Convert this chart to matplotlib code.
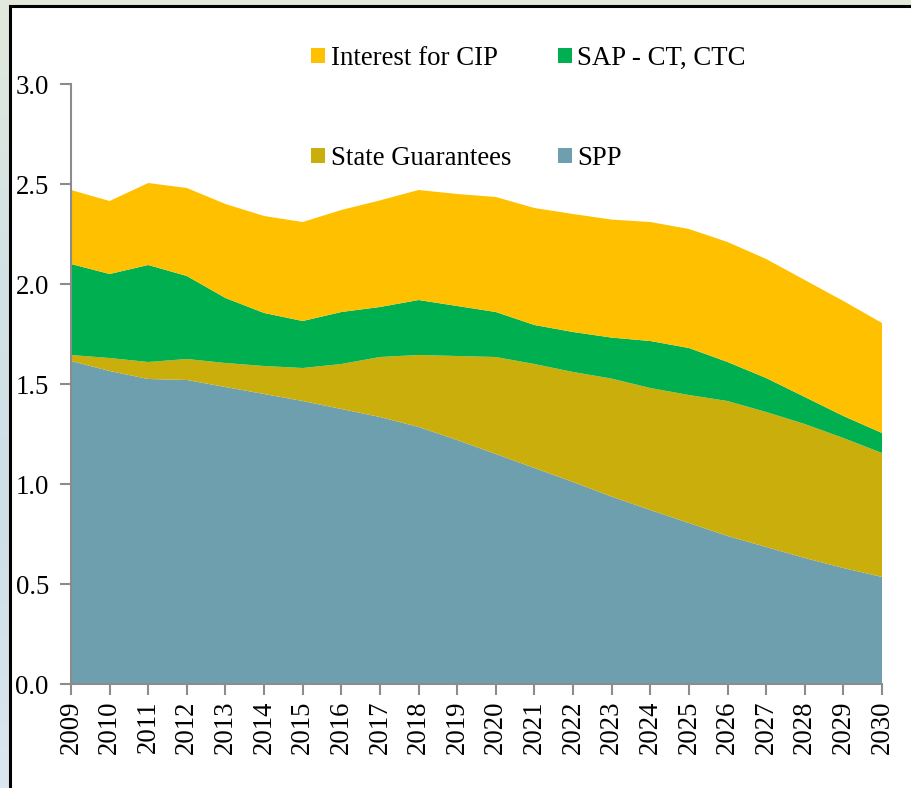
import numpy as np
import matplotlib
matplotlib.use("Agg")
import matplotlib.pyplot as plt
from matplotlib.patches import Rectangle, Patch
from matplotlib.colors import LinearSegmentedColormap

years = list(range(2009, 2031))
spp = [1.615, 1.565, 1.525, 1.52, 1.485, 1.45, 1.415, 1.375, 1.335, 1.285, 1.22,
       1.15, 1.08, 1.01, 0.937, 0.87, 0.805, 0.74, 0.685, 0.63, 0.58, 0.535]
state_guarantees = [0.03, 0.065, 0.085, 0.105, 0.12, 0.14, 0.165, 0.225, 0.30, 0.36, 0.42,
                    0.485, 0.52, 0.55, 0.59, 0.61, 0.64, 0.675, 0.675, 0.67, 0.65, 0.62]
sap_ct_ctc = [0.455, 0.42, 0.485, 0.415, 0.325, 0.265, 0.235, 0.26, 0.25, 0.275, 0.25,
              0.225, 0.195, 0.20, 0.205, 0.235, 0.235, 0.195, 0.17, 0.135, 0.11, 0.10]
interest_cip = [0.37, 0.365, 0.41, 0.44, 0.47, 0.485, 0.495, 0.51, 0.533, 0.55, 0.56,
                0.575, 0.585, 0.59, 0.59, 0.595, 0.595, 0.60, 0.595, 0.585, 0.575, 0.55]
yticks = [0.0, 0.5, 1.0, 1.5, 2.0, 2.5, 3.0]

c_spp = "#6E9FAE"
c_sg = "#CAAE0C"
c_sap = "#00B050"
c_int = "#FFC000"

plt.rcParams['font.family'] = ['Liberation Serif', 'DejaVu Serif']
FS = 19.3

W, H = 911, 788
fig = plt.figure(figsize=(W / 100, H / 100), dpi=100)

# background gradient frame
bg = fig.add_axes([0, 0, 1, 1], zorder=-10)
cmap = LinearSegmentedColormap.from_list("bg", ["#E2E9DC", "#D4E2E4", "#CFDFE8", "#DCE6EE"])
grad = np.linspace(0, 1, 256).reshape(-1, 1)
bg.imshow(grad, aspect='auto', cmap=cmap, extent=[0, 1, 0, 1], origin='upper')
bg.set_xlim(0, 1)
bg.set_ylim(0, 1)
bg.axis('off')
bg.add_patch(Rectangle((10 / W, -0.1), 1.2, 1.1 - 6 / H, facecolor='white',
                       edgecolor='black', linewidth=2.2))

ax = fig.add_axes([71 / W, 104 / H, (882 - 71) / W, (684 - 84) / H])
ax.set_facecolor('none')
ax.stackplot(years, spp, state_guarantees, sap_ct_ctc, interest_cip,
             colors=[c_spp, c_sg, c_sap, c_int], linewidth=0)
ax.set_xlim(years[0], years[-1])
ax.set_ylim(0, 3)
ax.set_xticks(years)
ax.set_xticklabels([str(y) for y in years], rotation=90, fontsize=FS)
ax.set_yticks(yticks)
ax.set_yticklabels([f"{v:.1f}" for v in yticks], fontsize=FS)
for s in ['top', 'right']:
    ax.spines[s].set_visible(False)
for s in ['left', 'bottom']:
    ax.spines[s].set_color('#8C8C8C')
    ax.spines[s].set_linewidth(1.5)
ax.tick_params(axis='y', direction='out', length=8, width=1.5, color='#8C8C8C', pad=8)
ax.tick_params(axis='x', direction='out', length=8, width=1.5, color='#8C8C8C', pad=4)

handles = [Patch(facecolor=c_int, label='Interest for CIP'),
           Patch(facecolor=c_sg, label='State Guarantees'),
           Patch(facecolor=c_sap, label='SAP - CT, CTC'),
           Patch(facecolor=c_spp, label='SPP')]
fig.legend(handles=handles, ncol=2, loc='upper left',
           bbox_to_anchor=(311 / W, 1 - 46 / H), frameon=False, fontsize=FS,
           handlelength=0.53, handleheight=0.53, handletextpad=0.2,
           labelspacing=2.8, columnspacing=1.75, borderpad=0, borderaxespad=0)

fig.savefig("out.png", dpi=100)
